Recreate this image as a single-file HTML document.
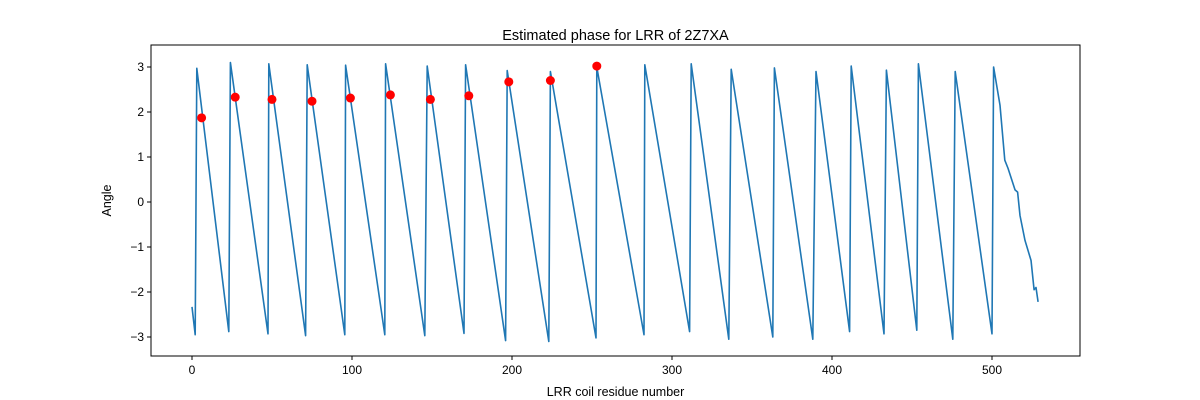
<!DOCTYPE html>
<html><head><meta charset="utf-8"><style>body{margin:0;background:#fff}svg{display:block;font-family:"Liberation Sans","DejaVu Sans",sans-serif}</style></head>
<body>
<svg id="chart" width="1200" height="400" viewBox="0 0 1200 400"></svg>
<script>
const lineX=[0,2,3,23,24,47.5,48,71,72,95.5,96,120.5,121,145.5,147,170,171,196,197,223,224,252.5,253,282.5,283,311,312,335.5,337,363,364,388,390,411,412,432.5,434,453,454,475.5,477,500,501,505,508,510,514.4,516,517.5,520.6,524.4,526.3,527.5,528.8];
const lineY=[-2.33,-2.95,2.97,-2.88,3.1,-2.93,3.07,-2.97,3.05,-2.95,3.04,-2.95,3.07,-2.97,3.02,-2.92,3.05,-3.08,2.92,-3.1,2.9,-3.02,3.0,-2.95,3.05,-2.88,3.07,-3.05,2.95,-3.0,2.98,-3.05,2.9,-2.88,3.02,-2.93,2.93,-2.85,3.07,-3.05,2.9,-2.93,3.0,2.15,0.93,0.75,0.27,0.22,-0.3,-0.85,-1.3,-1.95,-1.9,-2.22];
const dotX=[6,27,50,75,99,124,149,173,198,224,253];
const dotY=[1.87,2.33,2.28,2.24,2.31,2.38,2.28,2.36,2.67,2.7,3.02];
const xTicks=[0,100,200,300,400,500];
const yTicks=[-3,-2,-1,0,1,2,3];
const L=151,R=1080,T=45,B=356;
const sx=v=>192+v*1.6, sy=v=>202-v*45;
const NS='http://www.w3.org/2000/svg', svg=document.getElementById('chart');
function mk(t,a,txt){const e=document.createElementNS(NS,t);for(const k in a)e.setAttribute(k,a[k]);if(txt!==undefined)e.textContent=txt;svg.appendChild(e);return e;}
let e=mk('rect',{x:L,y:T,width:R-L,height:B-T,fill:'#fff',stroke:'#000','stroke-width':1});


xTicks.forEach(v=>{const x=sx(v);
 let t=mk('line',{x1:x,x2:x,y1:B,y2:B+4,stroke:'#000'});
 
 
 let l=mk('text',{x:x,y:B+18,'text-anchor':'middle','font-size':12},v);
 
 });
yTicks.forEach(v=>{const y=sy(v);
 let t=mk('line',{x1:L-4,x2:L,y1:y,y2:y,stroke:'#000'});
 
 
 let l=mk('text',{x:L-7,y:y+4,'text-anchor':'end','font-size':12},v<0?'\u2212'+(-v):v);
 
 });
const p=mk('polyline',{points:lineX.map((x,i)=>sx(x)+','+sy(lineY[i])).join(' '),fill:'none',stroke:'#1f77b4','stroke-width':1.6,'stroke-linejoin':'round'});


dotX.forEach((x,i)=>{const c=mk('circle',{cx:sx(x),cy:sy(dotY[i]),r:4.5,fill:'#ff0000'});
 
 });
let ti=mk('text',{x:615.5,y:40,'text-anchor':'middle','font-size':14.5},'Estimated phase for LRR of 2Z7XA');


let xl=mk('text',{x:615.5,y:396,'text-anchor':'middle','font-size':12.5},'LRR coil residue number');


let yl=mk('text',{x:111,y:200.5,'text-anchor':'middle','font-size':12.5,transform:'rotate(-90 111 200.5)'},'Angle');


</script>
</body></html>
